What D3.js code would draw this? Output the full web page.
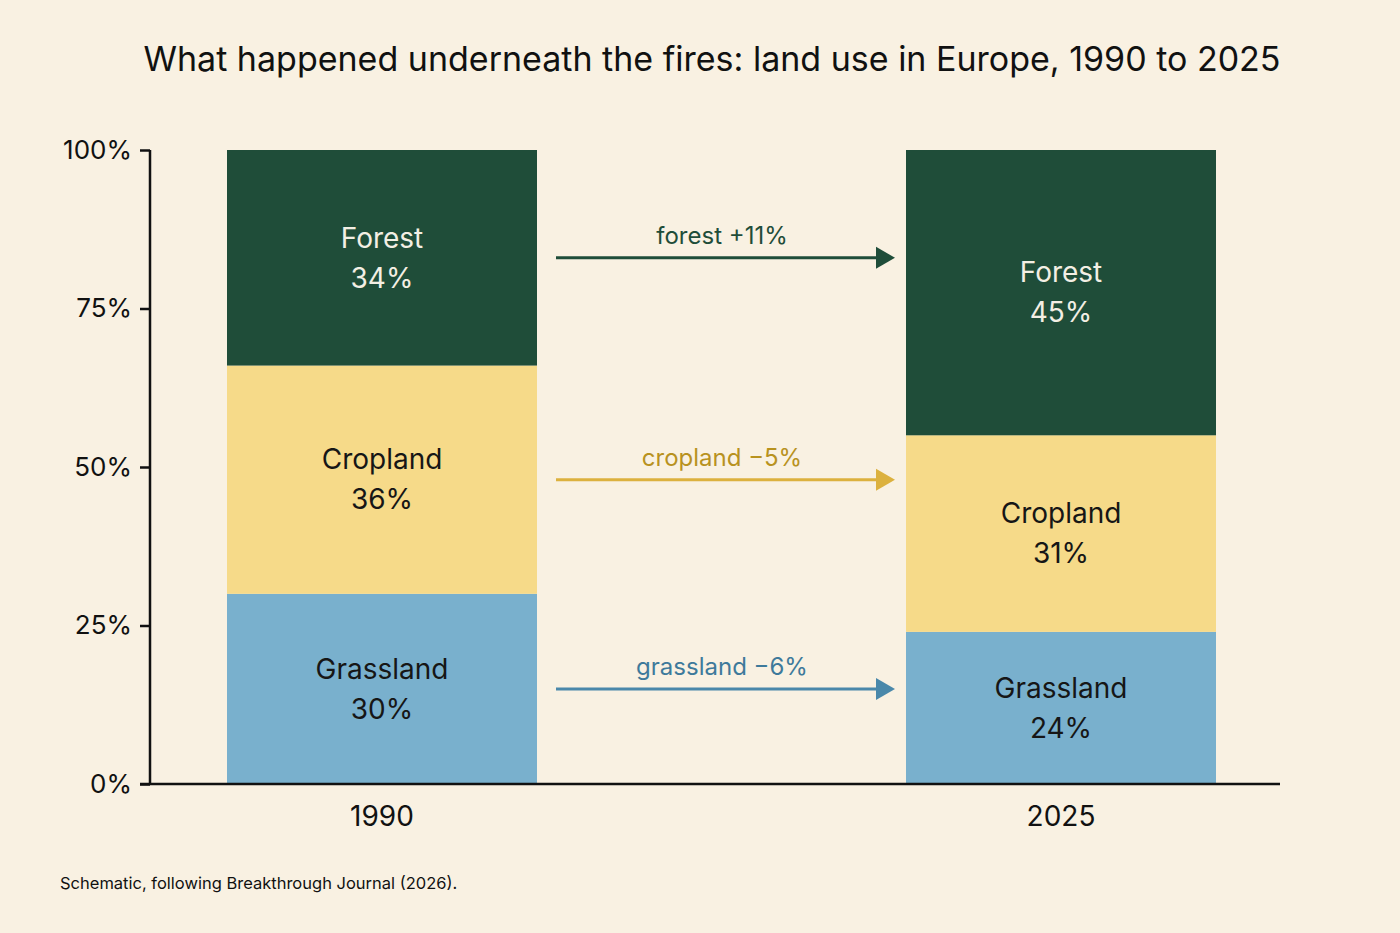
<!DOCTYPE html>
<html>
<head>
<meta charset="utf-8">
<script src="https://cdn.jsdelivr.net/npm/d3@7"></script>
<style>
  body { margin: 0; background: #f9f1e2; }
  svg { display: block; font-family: Inter, "Noto Sans", sans-serif; }
</style>
</head>
<body>
<script>
// data
var years = ["1990", "2025"];
var land_types = ["grassland", "cropland", "forest"];
var type_names = { grassland: "Grassland", cropland: "Cropland", forest: "Forest" };
var grassland = [30, 24];
var cropland = [36, 31];
var forest = [34, 45];
var change_labels = ["grassland \u22126%", "cropland \u22125%", "forest +11%"];
var y_ticks = [0, 25, 50, 75, 100];

var fill_colors = { grassland: "#79b0cd", cropland: "#f6da89", forest: "#1f4d39" };
var text_colors = { grassland: "#161616", cropland: "#161616", forest: "#f3efe4" };
var arrow_colors = { grassland: "#4a88aa", cropland: "#dcb13e", forest: "#1f4d39" };
var arrow_text_colors = { grassland: "#3e7a9b", cropland: "#b8921f", forest: "#1f4d39" };

var w = 1400, h = 933;
var bar_width = 310;

var svg = d3.select("body").append("svg")
  .attr("width", w)
  .attr("height", h);

svg.append("rect").attr("width", w).attr("height", h).attr("fill", "#f9f1e2");

// title
svg.append("text")
  .attr("x", 712)
  .attr("y", 71)
  .attr("text-anchor", "middle")
  .style("font-size", "34px")
  .style("fill", "#111")
  .text("What happened underneath the fires: land use in Europe, 1990 to 2025");

var y = d3.scaleLinear().domain([0, 100]).range([784, 150]);
var x = d3.scalePoint().domain(years).range([382, 1061]);

// build table for stacking
var table = years.map(function(yr, i){
  return { year: yr, grassland: grassland[i], cropland: cropland[i], forest: forest[i] };
});
var stacked = d3.stack().keys(land_types)(table);

// bars
var layers = svg.selectAll("g.layer")
  .data(stacked)
  .enter()
  .append("g")
  .attr("class", "layer");

layers.selectAll("rect")
  .data(function(d){ return d.map(function(p){ return { key: d.key, p: p }; }); })
  .enter()
  .append("rect")
  .attr("x", function(d){ return x(d.p.data.year) - bar_width/2; })
  .attr("y", function(d){ return y(d.p[1]); })
  .attr("width", bar_width)
  .attr("height", function(d){ return y(d.p[0]) - y(d.p[1]); })
  .attr("fill", function(d){ return fill_colors[d.key]; });

// segment labels
var seg_labels = layers.selectAll("g.seglabel")
  .data(function(d){ return d.map(function(p){ return { key: d.key, p: p }; }); })
  .enter()
  .append("g")
  .attr("class", "seglabel")
  .attr("transform", function(d){
    return "translate(" + x(d.p.data.year) + "," + y((d.p[0] + d.p[1]) / 2) + ")";
  })
  .style("fill", function(d){ return text_colors[d.key]; })
  .style("font-size", "28px")
  .attr("text-anchor", "middle");

seg_labels.append("text")
  .attr("y", -20)
  .attr("dy", "0.35em")
  .text(function(d){ return type_names[d.key]; });

seg_labels.append("text")
  .attr("y", 20)
  .attr("dy", "0.35em")
  .text(function(d){ return (d.p[1] - d.p[0]) + "%"; });

// change arrows, placed at the middle of the 1990 segments
var x0 = 556, x1 = 895;
var arrows = svg.selectAll("g.arrow")
  .data(stacked)
  .enter()
  .append("g")
  .attr("class", "arrow")
  .attr("transform", function(d){
    return "translate(0," + y((d[0][0] + d[0][1]) / 2) + ")";
  });

arrows.append("line")
  .attr("x1", x0)
  .attr("x2", x1 - 16)
  .attr("stroke", function(d){ return arrow_colors[d.key]; })
  .attr("stroke-width", 3);

arrows.append("path")
  .attr("d", "M" + (x1 - 19) + ",-11 L" + x1 + ",0 L" + (x1 - 19) + ",11 Z")
  .attr("fill", function(d){ return arrow_colors[d.key]; });

arrows.append("text")
  .attr("x", 722)
  .attr("y", -22)
  .attr("dy", "0.35em")
  .attr("text-anchor", "middle")
  .style("font-size", "24px")
  .style("fill", function(d){ return arrow_text_colors[d.key]; })
  .text(function(d, i){ return change_labels[i]; });

// axes
var y_axis = svg.append("g")
  .attr("transform", "translate(150,0)")
  .call(d3.axisLeft(y).tickValues(y_ticks).tickSize(10).tickPadding(8)
    .tickFormat(function(d){ return d + "%"; }));

y_axis.select(".domain").attr("stroke", "#111").attr("stroke-width", 2.5)
  .attr("d", "M0," + y(100) + "V" + y(0));
y_axis.selectAll(".tick line").attr("stroke", "#111").attr("stroke-width", 2.5);
y_axis.selectAll(".tick text")
  .style("font-size", "26px")
  .style("font-family", "Inter, 'Noto Sans', sans-serif")
  .attr("fill", "#111");

svg.append("line")
  .attr("x1", 140)
  .attr("x2", 1280)
  .attr("y1", y(0))
  .attr("y2", y(0))
  .attr("stroke", "#111")
  .attr("stroke-width", 2.5);

svg.selectAll("text.xlabel")
  .data(years)
  .enter()
  .append("text")
  .attr("class", "xlabel")
  .attr("x", function(d){ return x(d); })
  .attr("y", 816)
  .attr("dy", "0.35em")
  .attr("text-anchor", "middle")
  .style("font-size", "28px")
  .style("fill", "#111")
  .text(function(d){ return d; });

// footnote
svg.append("text")
  .attr("x", 60)
  .attr("y", 889)
  .style("font-size", "16.5px")
  .style("fill", "#111")
  .text("Schematic, following Breakthrough Journal (2026).");
</script>
</body>
</html>
